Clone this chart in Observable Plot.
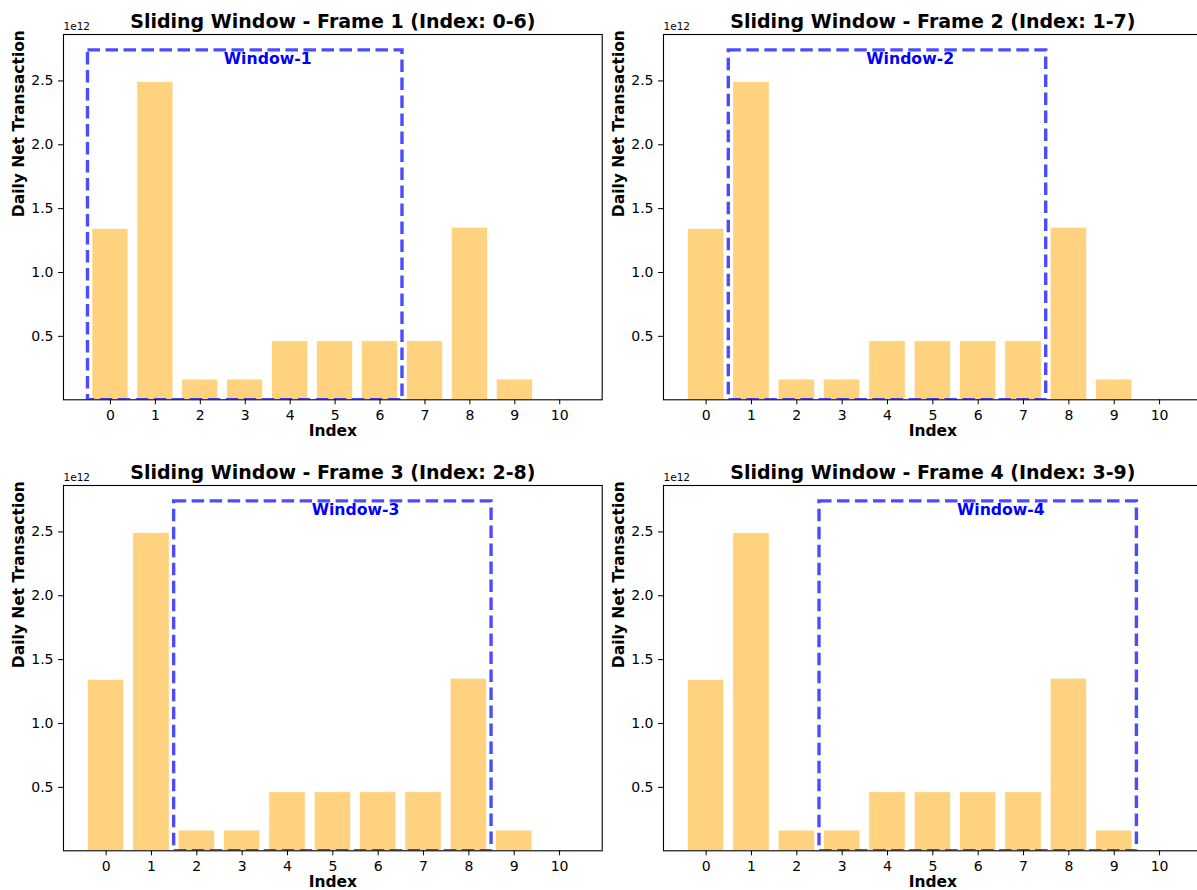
<!DOCTYPE html>
<html><head><meta charset="utf-8">
<script src="https://cdn.jsdelivr.net/npm/d3@7"></script>
<script src="https://cdn.jsdelivr.net/npm/@observablehq/plot@0.6"></script>
<style>
body{margin:0;background:#fff;}
#wrap{position:relative;width:1197px;height:890px;overflow:hidden;background:#fff;}
.panel{position:absolute;width:630px;height:445px;}
.panel svg{max-width:none !important;}
</style></head><body><div id="wrap"></div>
<script>
const indices = [0, 1, 2, 3, 4, 5, 6, 7, 8, 9, 10];
const values = [1.34e12, 2.49e12, 0.161e12, 0.161e12, 0.461e12, 0.461e12, 0.461e12, 0.461e12, 1.35e12, 0.161e12, 0];
const windowStarts = [0, 1, 2, 3];
const windowEnds = [6, 7, 8, 9];
const frameTitles = [
  "Sliding Window - Frame 1 (Index: 0-6)",
  "Sliding Window - Frame 2 (Index: 1-7)",
  "Sliding Window - Frame 3 (Index: 2-8)",
  "Sliding Window - Frame 4 (Index: 3-9)"
];
const windowLabels = ["Window-1", "Window-2", "Window-3", "Window-4"];
const yTicks = [0.5e12, 1.0e12, 1.5e12, 2.0e12, 2.5e12];
const xLabel = "Index";
const yLabel = "Daily Net Transaction";
const offsetLabel = "1e12";

const data = indices.map((i, k) => ({i, v: values[k]}));
const maxV = d3.max(values);
const positions = [[0, 0], [600, 0], [0, 451], [600, 451]];
const wrap = document.getElementById("wrap");

windowStarts.forEach((s, f) => {
  const e = windowEnds[f];
  const lo = Math.min(-0.4, s - 0.5), hi = Math.max(10.4, e + 0.5);
  const m = (hi - lo) * 0.05;
  const win = [{x1: s - 0.5, x2: e + 0.5, y1: 0, y2: maxV * 1.1, lx: (s + e + 1) / 2, label: windowLabels[f]}];
  const chart = Plot.plot({
    width: 630, height: 445,
    marginLeft: 63, marginRight: 28.3, marginTop: 34, marginBottom: 45.7,
    style: {fontFamily: "'DejaVu Sans', sans-serif", fontSize: "14px", color: "#000", background: "transparent", overflow: "visible", maxWidth: "none"},
    x: {type: "linear", domain: [lo - m, hi + m]},
    y: {type: "linear", domain: [0.003e12, maxV * 1.15]},
    marks: [
      Plot.rect(data, {x1: d => d.i - 0.4, x2: d => d.i + 0.4, y1: 0, y2: "v", fill: "#ffd280", stroke: "#fff", strokeWidth: 0.6, clip: true}),
      Plot.rect(win, {x1: "x1", x2: "x2", y1: "y1", y2: "y2", fill: "none", stroke: "blue", strokeOpacity: 0.7, strokeWidth: 3.4, strokeDasharray: "12.5,5.5", clip: true}),
      Plot.text(win, {x: "lx", y: "y2", text: "label", lineAnchor: "top", dy: 2, fill: "blue", fontWeight: "bold", fontSize: 15.7}),
      Plot.frame({stroke: "#000", strokeWidth: 1.1}),
      Plot.axisX({ticks: indices, tickFormat: d => String(d), tickSize: 5, tickPadding: 5, fontSize: 14, label: null}),
      Plot.axisY({ticks: yTicks, tickFormat: d => (d / 1e12).toFixed(1), tickSize: 5, tickPadding: 5, fontSize: 14, label: null}),
      Plot.text([frameTitles[f]], {frameAnchor: "top", lineAnchor: "bottom", dy: -6.3, fontSize: 19, fontWeight: "bold", fill: "#000"}),
      Plot.text([offsetLabel], {frameAnchor: "top-left", textAnchor: "start", lineAnchor: "bottom", dy: -5, fontSize: 10.5, fill: "#000"}),
      Plot.text([xLabel], {frameAnchor: "bottom", lineAnchor: "middle", dy: 31.3, fontSize: 15.5, fontWeight: "bold", fill: "#000"}),
      Plot.text([yLabel], {frameAnchor: "left", lineAnchor: "middle", rotate: -90, dx: -44, fontSize: 15.5, fontWeight: "bold", fill: "#000"})
    ]
  });
  const div = document.createElement("div");
  div.className = "panel";
  div.style.left = positions[f][0] + "px";
  div.style.top = positions[f][1] + "px";
  div.appendChild(chart);
  wrap.appendChild(div);
});
</script></body></html>
